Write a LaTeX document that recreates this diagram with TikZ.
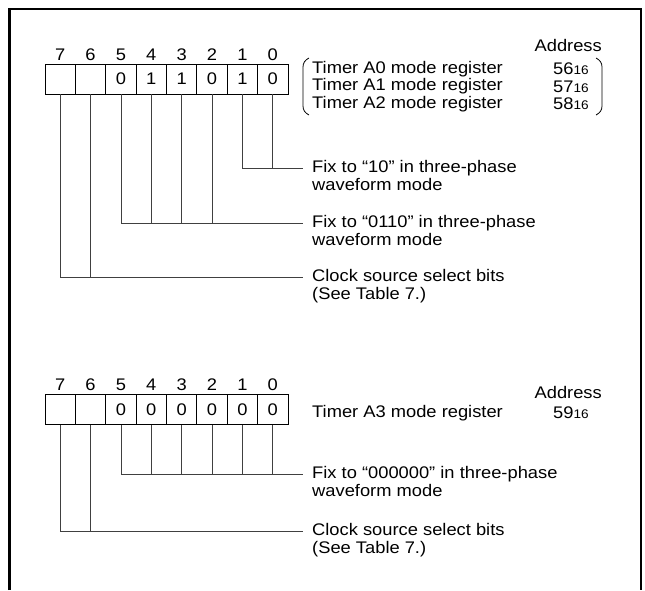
\documentclass[tikz,border=0pt]{standalone}
\usepackage{fontspec}
\setmainfont{Liberation Sans}[FakeStretch=1.09]
\usetikzlibrary{positioning,calc}

\newcommand{\hexsub}[1]{{\fontsize{12.5}{12.5}\selectfont #1}}

\begin{document}
\begin{tikzpicture}[x=1pt, y=-1pt,
        every node/.style={font=\fontsize{16.8}{17.5}\selectfont, inner sep=0pt},
        cell/.style={draw, line width=0.9pt, minimum width=30.375pt, minimum height=30pt},
        note/.style={anchor=north west, align=left},
        wire/.style={line width=0.8pt, black!75},
        brk/.style={line width=0.8pt}]
        \useasboundingbox (0,0) rectangle (645,590);
        % frame
        \draw[line width=2.5pt] (9.5,590) -- (9.5,9) -- (641,9) -- (641,590);

        % upper register: timer A0..A2 mode
        \foreach \b/\v [count=\k from 0] in {7/,6/,5/0,4/1,3/1,2/0,1/1,0/0} {
            \node[cell] (ra\b) at ({45+30.375*(\k+0.5)},79) {\v};
            \node[above=3pt of ra\b] (na\b) {\b};
        }
        \node[anchor=east] (addra) at (602,45) {Address};
        \node[anchor=west] (tma0) at (312,69) {Timer A0 mode register};
        \node[anchor=west] (tma1) at (312,86.5) {Timer A1 mode register};
        \node[anchor=west] (tma2) at (312,104) {Timer A2 mode register};
        \node[anchor=west] (ada0) at (553,69) {56\hexsub{16}};
        \node[anchor=west] (ada1) at (553,86.5) {57\hexsub{16}};
        \node[anchor=west] (ada2) at (553,104) {58\hexsub{16}};
        \draw[brk] (309,58) .. controls (305,60) and (303,63) .. (303,67) -- (303,106) .. controls (303,110) and (305,113) .. (309,115);
        \draw[brk] (596,58) .. controls (600,60) and (602,63) .. (602,67) -- (602,106) .. controls (602,110) and (600,113) .. (596,115);

        \coordinate (ea1) at (303,168);
        \coordinate (ea2) at (303,223);
        \coordinate (ea3) at (303,277);
        \draw[wire] (ra1.south) |- (ea1);
        \draw[wire] (ra0.south) -- (ra0.south |- ea1);
        \draw[wire] (ra5.south) |- (ea2);
        \foreach \b in {4,3,2}
            \draw[wire] (ra\b.south) -- (ra\b.south |- ea2);
        \draw[wire] (ra7.south) |- (ea3);
        \draw[wire] (ra6.south) -- (ra6.south |- ea3);
        \node[note] (fxa1) at (312,160.5) {Fix to “10” in three-phase\\waveform mode};
        \node[note] (fxa2) at (312,215.5) {Fix to “0110” in three-phase\\waveform mode};
        \node[note] (clka) at (312,269.5) {Clock source select bits\\(See Table 7.)};

        % lower register: timer A3 mode
        \foreach \b/\v [count=\k from 0] in {7/,6/,5/0,4/0,3/0,2/0,1/0,0/0} {
            \node[cell] (rb\b) at ({45+30.375*(\k+0.5)},409.5) {\v};
            \node[above=3pt of rb\b] (nb\b) {\b};
        }
        \node[anchor=east] (addrb) at (602,392) {Address};
        \node[anchor=west] (tma3) at (312,413) {Timer A3 mode register};
        \node[anchor=west] (ada3) at (553,413) {59\hexsub{16}};

        \coordinate (eb1) at (303,474);
        \coordinate (eb2) at (303,531);
        \draw[wire] (rb5.south) |- (eb1);
        \foreach \b in {4,3,2,1,0}
            \draw[wire] (rb\b.south) -- (rb\b.south |- eb1);
        \draw[wire] (rb7.south) |- (eb2);
        \draw[wire] (rb6.south) -- (rb6.south |- eb2);
        \node[note] (fxb1) at (312,466.5) {Fix to “000000” in three-phase\\waveform mode};
        \node[note] (clkb) at (312,523.5) {Clock source select bits\\(See Table 7.)};
    \end{tikzpicture}
\end{document}
